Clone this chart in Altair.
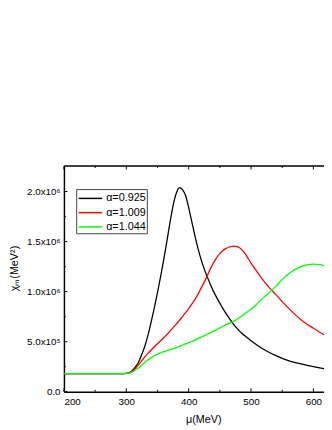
import altair as alt
import pandas as pd

# ---- data ----
mu = [200, 250, 290, 300, 305, 310, 315, 320, 325, 330, 335, 340, 345, 350, 355,
      360, 365, 370, 375, 380, 385, 390, 395, 400, 405, 410, 415, 420, 425, 430,
      435, 440, 445, 450, 455, 460, 465, 470, 475, 480, 485, 490, 495, 500, 510,
      520, 530, 540, 550, 560, 570, 580, 590, 600, 610, 617]
# chi_m in units of 1e5 MeV^2
chi_a0925 = [1.8, 1.8, 1.8, 1.83, 1.9, 2.15, 2.5, 3.0, 3.75, 4.6, 5.7, 7.0, 8.4, 9.9, 11.5,
             13.2, 15.0, 16.9, 18.6, 19.8, 20.4, 20.2, 19.6, 18.4, 17.0, 15.6, 14.3, 13.2, 12.25, 11.45,
             10.7, 10.0, 9.4, 8.85, 8.3, 7.8, 7.35, 6.9, 6.5, 6.15, 5.85, 5.6, 5.35, 5.1, 4.65,
             4.25, 3.9, 3.6, 3.33, 3.1, 2.93, 2.78, 2.63, 2.5, 2.38, 2.3]
chi_a1009 = [1.8, 1.8, 1.8, 1.83, 1.88, 2.05, 2.35, 2.7, 3.1, 3.5, 3.85, 4.2, 4.5, 4.8, 5.1,
             5.4, 5.7, 6.05, 6.4, 6.75, 7.1, 7.5, 7.9, 8.3, 8.75, 9.2, 9.75, 10.35, 10.95, 11.6,
             12.3, 12.9, 13.4, 13.8, 14.1, 14.32, 14.46, 14.53, 14.53, 14.45, 14.2, 13.85, 13.35, 12.85, 11.95,
             11.1, 10.35, 9.7, 9.0, 8.35, 7.75, 7.2, 6.75, 6.35, 5.95, 5.7]
chi_a1044 = [1.8, 1.8, 1.8, 1.83, 1.88, 2.0, 2.2, 2.4, 2.65, 2.95, 3.2, 3.4, 3.6, 3.75, 3.88,
             4.0, 4.1, 4.2, 4.3, 4.4, 4.52, 4.65, 4.78, 4.9, 5.02, 5.15, 5.3, 5.45, 5.6, 5.75,
             5.9, 6.05, 6.2, 6.38, 6.54, 6.7, 6.82, 6.95, 7.15, 7.35, 7.57, 7.8, 8.02, 8.25, 8.8,
             9.4, 9.95, 10.55, 11.2, 11.75, 12.2, 12.5, 12.68, 12.75, 12.7, 12.6]

labels = ["α=0.925", "α=1.009", "α=1.044"]
colors = ["#000000", "#ff0000", "#00ff00"]

x_major = [200, 300, 400, 500, 600]
x_minor = [250, 350, 450, 550]
y_major = [0, 500000, 1000000, 1500000, 2000000]
y_minor = [250000, 750000, 1250000, 1750000]
y_tick_labels = ["0.0", "5.0x10⁵", "1.0x10⁶", "1.5x10⁶", "2.0x10⁶"]

rows = []
for lab, vals in zip(labels, [chi_a0925, chi_a1009, chi_a1044]):
    for m, v in zip(mu, vals):
        rows.append({"mu": m, "chi": v * 1e5, "series": lab})
df = pd.DataFrame(rows)

W, H = 265, 230
FONT = "Liberation Sans"
xs = alt.Scale(domain=[200, 617], nice=False, zero=False)
ys = alt.Scale(domain=[0, 2255000], nice=False, zero=False)
cs = alt.Scale(domain=labels, range=colors)

label_expr = "[" + ",".join("'%s'" % s for s in y_tick_labels) + "][round(datum.value/500000)]"

x_axis = alt.Axis(
    values=x_major, ticks=False, grid=False, labelPadding=5, labelFontSize=10,
    title="μ(MeV)", titleFontSize=11, titleFontWeight="normal",
    titleX=142, titleY=28, titleBaseline="middle", titleAlign="center")
y_axis = alt.Axis(
    values=y_major, ticks=False, grid=False, labelPadding=4, labelFontSize=10,
    labelExpr=label_expr,
    title="χₘ(MeV²)", titleFontSize=11, titleFontWeight="normal",
    titleX=-50, titleY=104, titleAngle=270, titleBaseline="middle", titleAlign="center")

lines = alt.Chart(df).mark_line(strokeWidth=1.3, interpolate="monotone").encode(
    x=alt.X("mu:Q", scale=xs, axis=x_axis),
    y=alt.Y("chi:Q", scale=ys, axis=y_axis),
    color=alt.Color("series:N", scale=cs, legend=None),
)

xmaj = pd.DataFrame({"mu": x_major})
xmin = pd.DataFrame({"mu": x_minor})
ymaj = pd.DataFrame({"chi": y_major})
ymin = pd.DataFrame({"chi": y_minor})

def xticks(d, y0, y1):
    return alt.Chart(d).mark_rule(color="black", strokeWidth=1).encode(
        x=alt.X("mu:Q", scale=xs, axis=x_axis), y=alt.value(y0), y2=alt.value(y1))

def yticks(d, l):
    return alt.Chart(d).mark_rule(color="black", strokeWidth=1).encode(
        y=alt.Y("chi:Q", scale=ys, axis=y_axis), x=alt.value(0), x2=alt.value(l))

top_line = alt.Chart(pd.DataFrame({"a": [0]})).mark_rule(color="black", strokeWidth=1.5).encode(
    x=alt.value(0), x2=alt.value(W), y=alt.value(0))

legend_df = pd.DataFrame({"label": labels, "row": [0, 1, 2]})
box = alt.Chart(pd.DataFrame({"a": [0]})).mark_rect(fill="white", stroke="#444444", strokeWidth=1).encode(
    x=alt.value(13), x2=alt.value(85), y=alt.value(24), y2=alt.value(69))
leg_lines = alt.Chart(legend_df).transform_calculate(py="33 + datum.row*14.5").mark_rule(strokeWidth=1.5).encode(
    x=alt.value(15), x2=alt.value(39),
    y=alt.Y("py:Q", scale=None, axis=None),
    color=alt.Color("label:N", scale=cs, legend=None))
leg_text = alt.Chart(legend_df).transform_calculate(py="33 + datum.row*14.5").mark_text(
    align="left", baseline="middle", fontSize=11, font=FONT, color="black").encode(
    x=alt.value(43), y=alt.Y("py:Q", scale=None, axis=None), text="label:N")

chart = alt.layer(
    lines,
    xticks(xmaj, H, H - 3.5), xticks(xmin, H, H - 2),
    xticks(xmaj, 0, 3.5), xticks(xmin, 0, 2),
    yticks(ymaj, 3.5), yticks(ymin, 2),
    top_line, box, leg_lines, leg_text,
).properties(
    width=W, height=H,
    padding={"left": 57, "top": 157, "right": 0, "bottom": 36},
    autosize="none",
).configure_view(stroke=None).configure_axis(
    labelFont=FONT, titleFont=FONT, labelColor="black", titleColor="black",
    domainColor="black", domainWidth=1.5, grid=False,
)

chart.save("out.html", embed_options={"renderer": "svg", "actions": False})
